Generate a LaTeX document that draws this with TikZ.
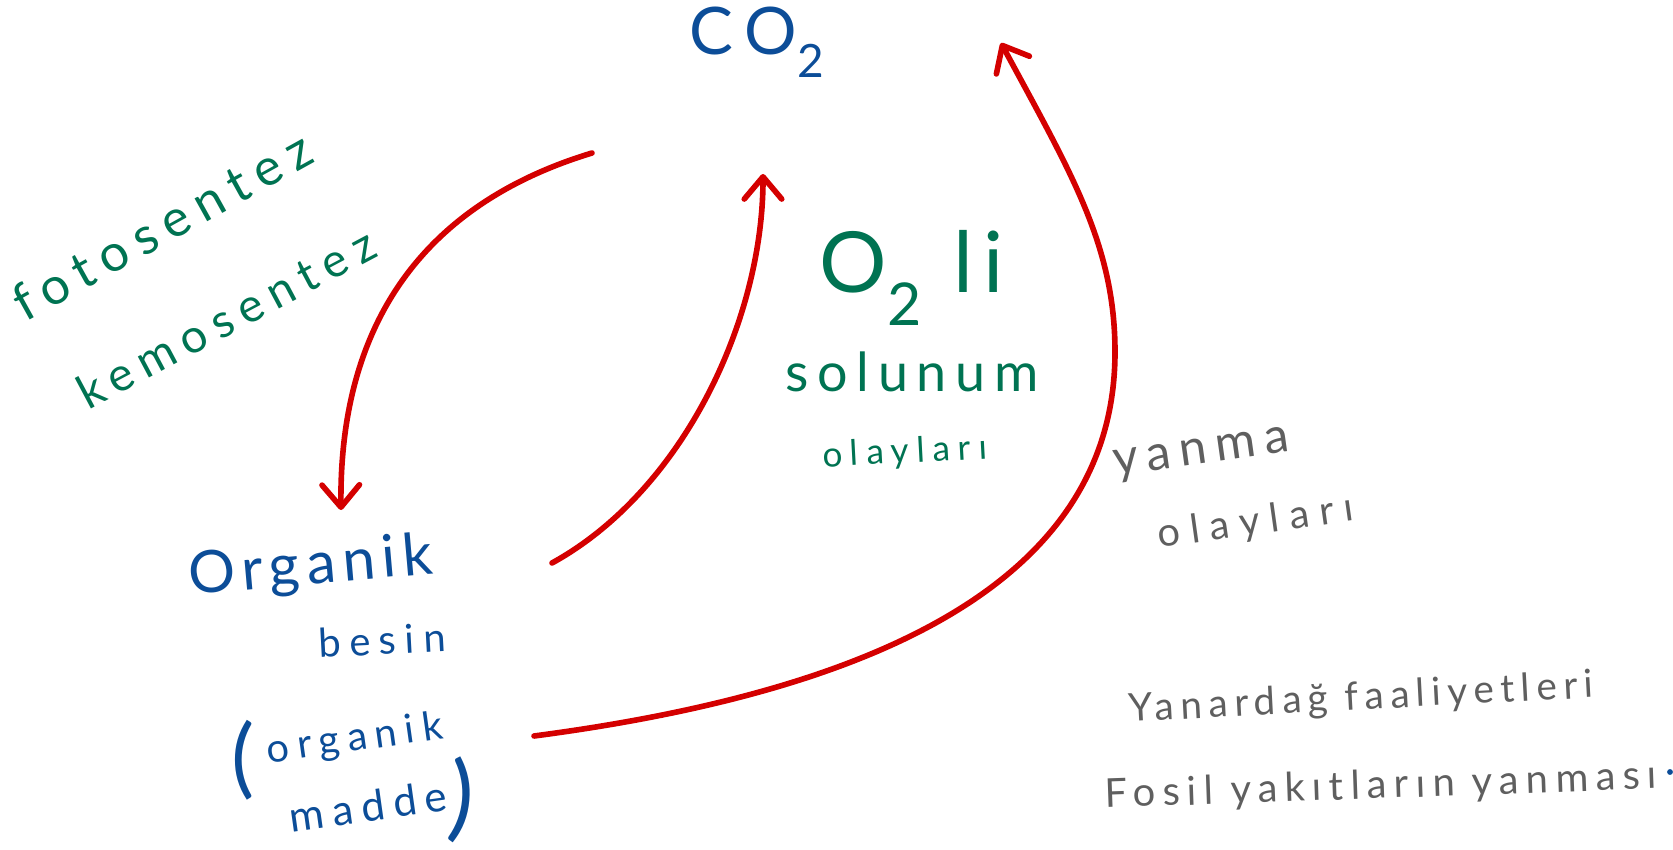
\documentclass[tikz,border=0pt]{standalone}
\usepackage{fontspec}
\setmainfont{Lato}
\usetikzlibrary{arrows.meta}
\definecolor{hred}{HTML}{D40000}
\definecolor{hblue}{HTML}{0C4D98}
\definecolor{hgreen}{HTML}{007352}
\definecolor{hgray}{HTML}{5F5F5F}
\newcommand{\hw}[2]{\fontsize{#1}{#1}\selectfont\addfontfeatures{LetterSpace=#2}}
\begin{document}
\begin{tikzpicture}[x=0.03cm,y=-0.03cm,
  cyc/.style={draw=hred, line width=4.8pt, line cap=round,
    -{Straight Barb[length=19pt,width=32pt,round]}},
  lab/.style={inner sep=0pt, anchor=center}]
\path[use as bounding box] (0,0) rectangle (1673,850);
% texts
\node[lab, hblue, font=\hw{56}{18}] (co2) at (757,42) {CO\textsubscript{2}};
\node[lab, hgreen, font=\hw{44}{20}, rotate=29] (foto) at (162,226) {fotosentez};
\node[lab, hgreen, font=\hw{40}{20}, rotate=28] (kemo) at (226,318) {kemosentez};
\node[lab, hgreen, font=\hw{72}{12}] (o2li) at (912,278) {O\textsubscript{2} li};
\node[lab, hgreen, font=\hw{46}{16}] (solunum) at (912,372) {solunum};
\node[lab, hgreen, font=\hw{30}{22}, rotate=3] (olay1) at (905,453) {olayları};
\node[lab, hgray, font=\hw{42}{18}, rotate=8] (yanma) at (1202,455) {yanma};
\node[lab, hgray, font=\hw{34}{26}, rotate=8] (olay2) at (1256,523) {olayları};
\node[lab, hblue, font=\hw{50}{12}, rotate=5] (organik) at (311,568) {Organik};
\node[lab, hblue, font=\hw{34}{22}, rotate=3] (besin) at (382,640) {besin};
\node[lab, hblue, font=\hw{34}{20}, rotate=8] (organik2) at (355,740) {organik};
\node[lab, hblue, font=\hw{36}{20}, rotate=8] (madde) at (368,806) {madde};
\node[lab, hblue, font=\hw{74}{0}] (lpar) at (243,760) {(};
\node[lab, hblue, font=\hw{80}{0}, rotate=-5] (rpar) at (462,800) {)};
\node[lab, hgray, font=\hw{33}{17}, rotate=3] (yanardag) at (1361,699) {Yanardağ faaliyetleri};
\node[lab, hgray, font=\hw{34}{18}, rotate=2] (fosil) at (1381,787) {Fosil yakıtların yanması};
\fill[hblue] (1670,772) circle (2.5pt);
% arrows
\coordinate (a1s) at (592,153);
\coordinate (a1e) at (341,510);
\coordinate (a2s) at (552,563);
\coordinate (a2e) at (763,174);
\coordinate (a3s) at (534,736);
\coordinate (a3m) at (1115,352);
\coordinate (a3e) at (1001,43);
\draw[cyc] (a1s) .. controls (427,203) and (339,320) .. (a1e);
\draw[cyc] (a2s) .. controls (683,491) and (763,320) .. (a2e);
\draw[cyc] (a3s) .. controls (907,687) and (1115,566) .. (a3m)
  .. controls (1115,245) and (1071,173) .. (a3e);
\end{tikzpicture}
\end{document}
